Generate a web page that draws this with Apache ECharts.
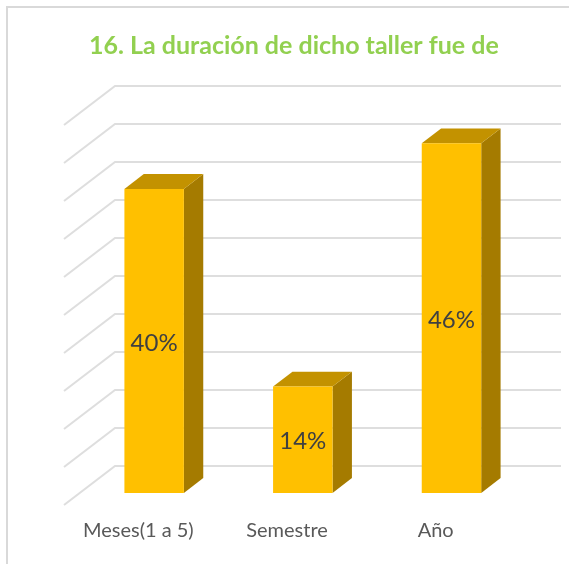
<!DOCTYPE html>
<html>
<head>
<meta charset="utf-8">
<style>
  html, body { margin: 0; padding: 0; background: #fff; }
  #chart { width: 569px; height: 564px; }
</style>
<script src="https://cdn.jsdelivr.net/npm/echarts@6/dist/echarts.min.js"></script>
</head>
<body>
<div id="chart"></div>
<script>
var titleText = '16. La duración de dicho taller fue de';
var categories = ['Meses(1 a 5)', 'Semestre', 'Año'];
var percentValues = [40, 14, 46];
var tickValues = [0, 5, 10, 15, 20, 25, 30, 35, 40, 45, 50];

// Depth of the floor in px, bars sit in the middle part of it
var DEPTH_X = 51;
var DEPTH_Y = -39;
var BAR_NEAR = 0.31;
var BAR_FAR = 0.69;
var BAR_WIDTH = 0.4;

function renderWall(params, api) {
    var front = api.coord([0, api.value(1)]);
    var size = api.size([1, 0])[0];
    var x0 = front[0] - size / 2;
    var y0 = front[1];
    var style = { stroke: '#DEDEDE', lineWidth: 2, fill: 'none' };
    return {
        type: 'polyline',
        shape: { points: [[x0, y0], [x0 + DEPTH_X, y0 + DEPTH_Y], [x0 + DEPTH_X + size * 3, y0 + DEPTH_Y]] },
        style: style,
        silent: true
    };
}

function renderBar(params, api) {
    var top = api.coord([api.value(0), api.value(1)]);
    var base = api.coord([api.value(0), 0]);
    var w = api.size([1, 0])[0] * BAR_WIDTH;
    var ox = DEPTH_X * BAR_NEAR;
    var oy = DEPTH_Y * BAR_NEAR;
    var dx = DEPTH_X * (BAR_FAR - BAR_NEAR);
    var dy = DEPTH_Y * (BAR_FAR - BAR_NEAR);
    var l = top[0] - w / 2 + ox;
    var r = l + w;
    var t = top[1] + oy;
    var b = base[1] + oy;
    return {
        type: 'group',
        children: [
            { type: 'polygon', shape: { points: [[r, t], [r + dx, t + dy], [r + dx, b + dy], [r, b]] }, style: { fill: '#A57B00' } },
            { type: 'polygon', shape: { points: [[l, t], [l + dx, t + dy], [r + dx, t + dy], [r, t]] }, style: { fill: '#C39200' } },
            { type: 'rect', shape: { x: l, y: t, width: w, height: b - t }, style: { fill: '#FFC000' } },
            {
                type: 'text',
                x: l + w / 2,
                y: (t + b) / 2 + 2,
                style: {
                    text: api.value(1) + '%',
                    fill: '#404040',
                    font: '24px Lato',
                    align: 'center',
                    verticalAlign: 'middle'
                }
            }
        ]
    };
}

var chart = echarts.init(document.getElementById('chart'));

var option = {
    animation: false,
    backgroundColor: '#fff',
    title: {
        text: titleText,
        left: 84,
        top: 28,
        textStyle: { color: '#92D050', fontFamily: 'Lato', fontWeight: 'bold', fontSize: 25 }
    },
    grid: { left: 64, top: 125, width: 446, height: 380 },
    xAxis: {
        type: 'category',
        data: categories,
        axisLine: { show: false },
        axisTick: { show: false },
        axisLabel: { color: '#595959', fontFamily: 'Lato', fontSize: 20, margin: 16 }
    },
    yAxis: {
        type: 'value',
        min: 0,
        max: 50,
        interval: 5,
        axisLine: { show: false },
        axisTick: { show: false },
        axisLabel: { show: false },
        splitLine: { show: false }
    },
    graphic: [{
        type: 'polyline',
        silent: true,
        shape: { points: [[7, 564], [7, 7], [569, 7]] },
        style: { stroke: '#D9D9D9', lineWidth: 2, fill: 'none' }
    }],
    series: [
        {
            type: 'custom',
            renderItem: renderWall,
            silent: true,
            z: 1,
            data: tickValues.map(function(v) { return [0, v]; })
        },
        {
            type: 'custom',
            renderItem: renderBar,
            silent: true,
            z: 2,
            data: percentValues.map(function(v, i) { return [i, v]; })
        }
    ]
};

chart.setOption(option);
</script>
</body>
</html>
